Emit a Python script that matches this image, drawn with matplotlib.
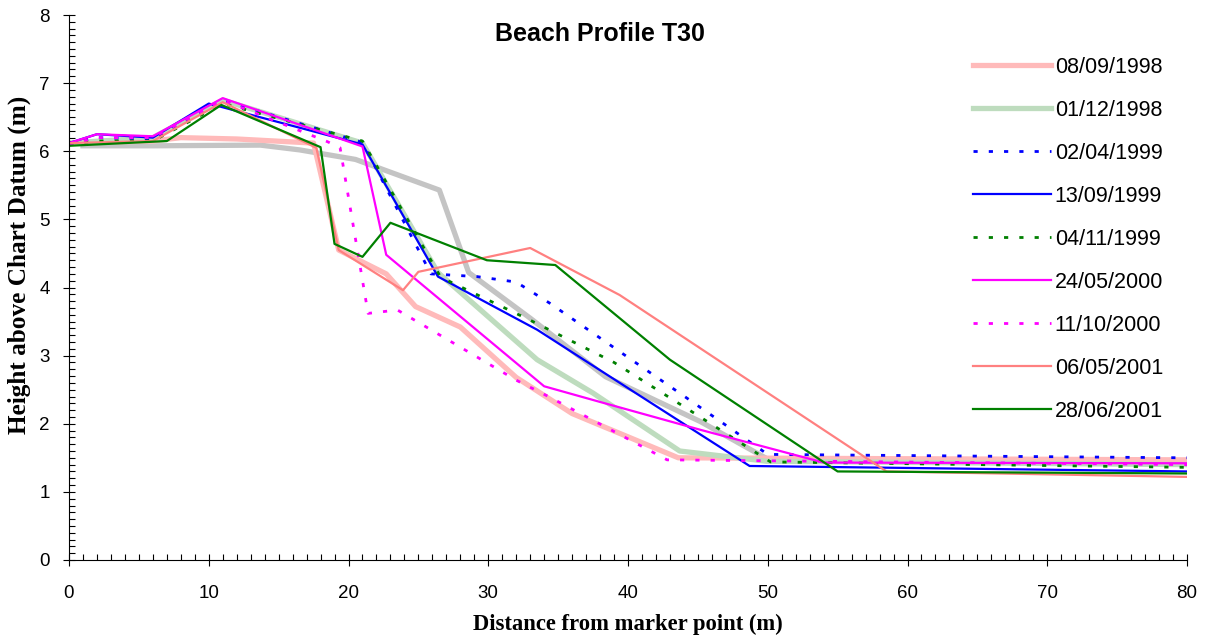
import matplotlib
matplotlib.use("Agg")
import matplotlib.pyplot as plt
from matplotlib.ticker import MultipleLocator

# survey dates (legend order)
dates = ['08/09/1998', '01/12/1998', '02/04/1999', '13/09/1999', '04/11/1999',
         '24/05/2000', '11/10/2000', '06/05/2001', '28/06/2001']

# unlabelled grey profile (drawn underneath)
x_grey = [1, 6, 13.7, 16.5, 20.5, 26.5, 28.6, 33, 38.4, 45.2, 50, 80]
y_grey = [6.08, 6.08, 6.09, 6.02, 5.88, 5.43, 4.22, 3.55, 2.69, 2.03, 1.48, 1.45]

x_980908 = [0, 6, 8, 12, 17.5, 19.3, 22.7, 24.8, 28, 32, 36, 43.6, 80]
y_980908 = [6.12, 6.15, 6.2, 6.18, 6.12, 4.55, 4.2, 3.72, 3.42, 2.68, 2.15, 1.5, 1.47]

x_981201 = [0, 6, 11, 21, 26.4, 33.5, 37.5, 43.7, 49.9, 80]
y_981201 = [6.12, 6.2, 6.75, 6.12, 4.22, 2.94, 2.45, 1.6, 1.45, 1.4]

x_990402 = [0, 2, 6, 11, 21, 25.9, 29.2, 32, 34.4, 44.4, 50, 80]
y_990402 = [6.12, 6.2, 6.18, 6.75, 6.13, 4.2, 4.16, 4.08, 3.77, 2.35, 1.55, 1.5]

x_990913 = [0, 2, 6, 10, 21, 26.4, 33.5, 38.5, 48.7, 80]
y_990913 = [6.12, 6.25, 6.2, 6.7, 6.1, 4.16, 3.38, 2.72, 1.38, 1.3]

x_991104 = [0, 2, 6, 11, 21, 26.6, 33, 39, 44.7, 50.2, 80]
y_991104 = [6.1, 6.15, 6.15, 6.7, 6.15, 4.15, 3.52, 2.9, 2.16, 1.44, 1.36]

x_000524 = [0, 2, 6, 11, 21, 22.7, 34, 38, 45.2, 54, 80]
y_000524 = [6.12, 6.25, 6.22, 6.78, 6.07, 4.48, 2.55, 2.32, 1.91, 1.43, 1.42]

x_001011 = [0, 2, 6, 11, 18.5, 19.4, 21.4, 23.5, 32, 34.4, 42.8, 80]
y_001011 = [6.1, 6.2, 6.2, 6.75, 6.14, 6.05, 3.62, 3.67, 2.64, 2.39, 1.47, 1.4]

x_010506 = [0, 6, 11, 17.7, 19.3, 23.9, 25, 33, 39.4, 58.5, 80]
y_010506 = [6.12, 6.15, 6.72, 6.05, 4.55, 3.96, 4.23, 4.58, 3.89, 1.3, 1.22]

x_010628 = [0, 7, 10.9, 18, 19, 21, 23, 29.9, 34.8, 43, 55, 80]
y_010628 = [6.08, 6.15, 6.68, 6.06, 4.64, 4.45, 4.95, 4.4, 4.33, 2.94, 1.3, 1.27]

fig = plt.figure(figsize=(12.12, 6.41), dpi=100)
ax = fig.add_axes([69 / 1212, 81 / 641, 1118 / 1212, 545 / 641])

dots = (0, (1.5, 4))
ax.plot(x_grey, y_grey, color='#c4c4c4', lw=3.8)
ax.plot(x_980908, y_980908, color='#ffbaba', lw=3.8, label=dates[0])
ax.plot(x_981201, y_981201, color='#bedcbe', lw=3.8, label=dates[1])
ax.plot(x_990402, y_990402, color='#0000ff', lw=2, linestyle=dots, label=dates[2])
ax.plot(x_990913, y_990913, color='#0000ff', lw=1.6, label=dates[3])
ax.plot(x_991104, y_991104, color='#008000', lw=2, linestyle=dots, label=dates[4])
ax.plot(x_000524, y_000524, color='#ff00ff', lw=1.6, label=dates[5])
ax.plot(x_001011, y_001011, color='#ff00ff', lw=2, linestyle=dots, label=dates[6])
ax.plot(x_010506, y_010506, color='#ff8080', lw=1.6, label=dates[7])
ax.plot(x_010628, y_010628, color='#008000', lw=1.6, label=dates[8])

ax.set_xlim(0, 80)
ax.set_ylim(0, 8)
ax.xaxis.set_major_locator(MultipleLocator(10))
ax.xaxis.set_minor_locator(MultipleLocator(1))
ax.yaxis.set_major_locator(MultipleLocator(1))
ax.yaxis.set_minor_locator(MultipleLocator(0.1))
ax.tick_params(which='major', direction='inout', length=8, width=0.8, labelsize=13.5)
ax.tick_params(axis='x', which='major', pad=14)
ax.tick_params(axis='y', which='major', pad=10)
ax.tick_params(which='minor', direction='in', length=4, width=0.8)
for lab in ax.get_xticklabels() + ax.get_yticklabels():
    lab.set_fontfamily('Liberation Sans')
for s in ['top', 'right']:
    ax.spines[s].set_visible(False)

fig.text(627.5 / 1212, 1 - 624 / 641, 'Distance from marker point (m)', ha='center', va='center',
         fontfamily='Liberation Serif', fontweight='bold', fontsize=16.3)
fig.text(19 / 1212, 1 - 265 / 641, 'Height above Chart Datum (m)', ha='center', va='center',
         rotation=90, fontfamily='Liberation Serif', fontweight='bold', fontsize=18.2)
ax.text(0.475, 0.965, 'Beach Profile T30', transform=ax.transAxes, ha='center', va='center',
        fontfamily='Liberation Sans', fontweight='bold', fontsize=18)

ax.legend(loc='upper left', bbox_to_anchor=((973 - 69) / 1118, (560 - 57) / 545),
          frameon=False, prop={'family': 'Liberation Sans', 'size': 15.5},
          handlelength=3.6, handletextpad=0.2, labelspacing=1.02,
          borderpad=0, borderaxespad=0)

fig.savefig('out.png', dpi=100)
